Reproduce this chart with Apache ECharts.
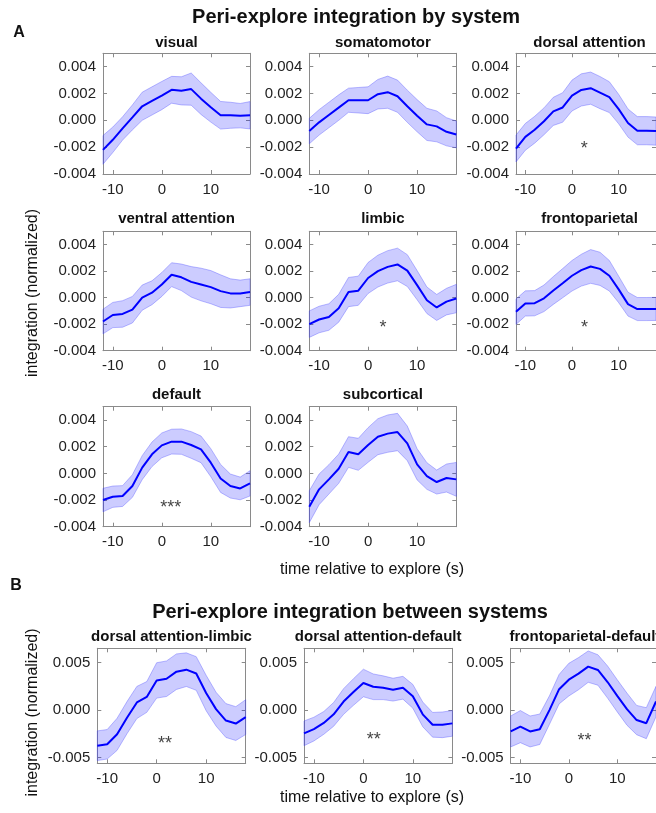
<!DOCTYPE html>
<html><head><meta charset="utf-8">
<script src="https://cdn.jsdelivr.net/npm/echarts@6/dist/echarts.min.js"></script>
<style>html,body{margin:0;padding:0;background:#fff}#c{width:656px;height:813px}</style>
</head><body><div id="c"></div>
<script>
// ---------------- DATA ----------------
const timeSec = [-12,-10,-8,-6,-4,-2,0,2,4,6,8,10,12,14,16,18];

const panelTitles = ['visual','somatomotor','dorsal attention','ventral attention','limbic','frontoparietal','default','subcortical',
  'dorsal attention-limbic','dorsal attention-default','frontoparietal-default'];

const visualMean = [-0.00220,-0.00145,-0.00060,0.00022,0.00105,0.00145,0.00185,0.00228,0.00220,0.00233,0.00162,0.00098,0.00038,0.00038,0.00035,0.00038];
const visualSem  = [0.00107,0.00095,0.00087,0.00093,0.00105,0.00105,0.00105,0.00100,0.00105,0.00120,0.00118,0.00111,0.00103,0.00097,0.00091,0.00102];

const somatomotorMean = [-0.00080,-0.00015,0.00040,0.00095,0.00150,0.00150,0.00150,0.00195,0.00210,0.00180,0.00105,0.00035,-0.00030,-0.00045,-0.00085,-0.00105];
const somatomotorSem  = [0.00095,0.00095,0.00095,0.00095,0.00090,0.00095,0.00100,0.00110,0.00120,0.00120,0.00120,0.00120,0.00120,0.00115,0.00105,0.00100];

const dorsalMean = [-0.00210,-0.00123,-0.00070,-0.00007,0.00067,0.00096,0.00185,0.00227,0.00240,0.00207,0.00173,0.00084,-0.00020,-0.00077,-0.00077,-0.00080];
const dorsalSem  = [0.00100,0.00100,0.00100,0.00100,0.00105,0.00110,0.00115,0.00120,0.00120,0.00120,0.00115,0.00110,0.00105,0.00105,0.00105,0.00105];

const ventralMean = [-0.00180,-0.00131,-0.00123,-0.00091,0.00000,0.00037,0.00099,0.00173,0.00153,0.00119,0.00099,0.00079,0.00049,0.00032,0.00032,0.00042];
const ventralSem  = [0.00093,0.00095,0.00100,0.00100,0.00095,0.00090,0.00090,0.00090,0.00100,0.00115,0.00123,0.00125,0.00123,0.00110,0.00100,0.00100];

const limbicMean = [-0.00200,-0.00165,-0.00146,-0.00080,0.00042,0.00052,0.00148,0.00200,0.00232,0.00250,0.00204,0.00094,-0.00020,-0.00074,-0.00030,-0.00007];
const limbicSem  = [0.00100,0.00100,0.00100,0.00105,0.00110,0.00110,0.00117,0.00120,0.00122,0.00123,0.00120,0.00110,0.00100,0.00098,0.00100,0.00107];

const frontoMean = [-0.00106,-0.00044,-0.00042,-0.00005,0.00054,0.00109,0.00165,0.00207,0.00235,0.00217,0.00165,0.00062,-0.00049,-0.00086,-0.00086,-0.00085];
const frontoSem  = [0.00096,0.00095,0.00095,0.00100,0.00105,0.00110,0.00115,0.00120,0.00127,0.00125,0.00115,0.00100,0.00090,0.00087,0.00087,0.00087];

const defaultMean = [-0.00200,-0.00175,-0.00170,-0.00095,0.00043,0.00143,0.00210,0.00238,0.00238,0.00213,0.00180,0.00080,-0.00038,-0.00095,-0.00113,-0.00075];
const defaultSem  = [0.00088,0.00080,0.00078,0.00085,0.00090,0.00092,0.00093,0.00093,0.00095,0.00100,0.00100,0.00105,0.00105,0.00090,0.00085,0.00095];

const subcorticalMean = [-0.00250,-0.00120,-0.00045,0.00035,0.00160,0.00143,0.00213,0.00275,0.00298,0.00310,0.00225,0.00068,-0.00020,-0.00065,-0.00035,-0.00045];
const subcorticalSem  = [0.00120,0.00115,0.00110,0.00110,0.00115,0.00120,0.00130,0.00135,0.00140,0.00140,0.00130,0.00117,0.00100,0.00090,0.00105,0.00127];

const daLimbicMean = [-0.00375,-0.00360,-0.00255,-0.00080,0.00080,0.00138,0.00312,0.00330,0.00404,0.00425,0.00385,0.00180,0.00010,-0.00110,-0.00142,-0.00074];
const daLimbicSem  = [0.00156,0.00155,0.00169,0.00169,0.00169,0.00162,0.00186,0.00187,0.00187,0.00177,0.00177,0.00186,0.00178,0.00178,0.00178,0.00183];

const daDefaultMean = [-0.00245,-0.00200,-0.00135,-0.00045,0.00090,0.00190,0.00285,0.00245,0.00235,0.00215,0.00235,0.00145,-0.00045,-0.00155,-0.00155,-0.00140];
const daDefaultSem  = [0.00130,0.00125,0.00120,0.00125,0.00135,0.00140,0.00145,0.00135,0.00125,0.00120,0.00120,0.00125,0.00130,0.00130,0.00135,0.00135];

const fpDefaultMean = [-0.00225,-0.00174,-0.00225,-0.00202,0.00000,0.00220,0.00320,0.00383,0.00457,0.00422,0.00295,0.00150,0.00010,-0.00105,-0.00138,0.00090];
const fpDefaultSem  = [0.00163,0.00169,0.00163,0.00160,0.00150,0.00155,0.00172,0.00169,0.00165,0.00160,0.00169,0.00169,0.00169,0.00154,0.00163,0.00160];

const starPanel  = [2, 4, 5, 6, 8, 9, 10];
const starLabels = ['*','*','*','***','**','**','**'];
const starX      = [2.6, 3.05, 2.7, 1.85, 1.7, 2.1, 3.25];
const starY      = [-0.0018, -0.0019, -0.0019, -0.0022, -0.0030, -0.0026, -0.0027];

const xTickValues  = [-10, 0, 10];
const yTickValuesA = [-0.004, -0.002, 0, 0.002, 0.004];
const yTickValuesB = [-0.005, 0, 0.005];

const titleA = 'Peri-explore integration by system';
const titleB = 'Peri-explore integration between systems';
const xLabelText = 'time relative to explore (s)';
const yLabelText = 'integration (normalized)';

// ---------------- LAYOUT ----------------
const means = [visualMean, somatomotorMean, dorsalMean, ventralMean, limbicMean, frontoMean, defaultMean, subcorticalMean, daLimbicMean, daDefaultMean, fpDefaultMean];
const sems  = [visualSem, somatomotorSem, dorsalSem, ventralSem, limbicSem, frontoSem, defaultSem, subcorticalSem, daLimbicSem, daDefaultSem, fpDefaultSem];

const FONT = '"Liberation Sans", Arial, Helvetica, sans-serif';
const axisColor = '#8a8a8a';
const textColor = '#222222';

const boxes = [
  [103, 53.3, 147, 120.7], [309.3, 53.3, 147, 120.7], [516, 53.3, 147, 120.7],
  [103, 231.3, 147, 119.4], [309.3, 231.3, 147, 119.4], [516, 231.3, 147, 119.4],
  [103, 406.7, 147, 120], [309.3, 406.7, 147, 120],
  [97.3, 648.3, 148.4, 115], [304, 648.3, 148.4, 115], [510.7, 648.3, 148.4, 115]
];
const titleY = [42.7, 42.7, 42.7, 219.2, 219.2, 219.2, 395.3, 395.3, 637, 637, 637];

const grid = [], xAxis = [], yAxis = [], series = [], graphic = [];

boxes.forEach((b, i) => {
  const isB = i >= 8;
  grid.push({left: b[0], top: b[1], width: b[2], height: b[3], containLabel: false});
  const yTicks = isB ? yTickValuesB : yTickValuesA;
  const yMin = isB ? -0.0056 : -0.004;
  const yMax = isB ? 0.0065 : 0.005;
  const line = {show: true, onZero: false, lineStyle: {color: axisColor, width: 1}};
  const tick = (vals) => ({show: true, inside: true, length: 4, customValues: vals, lineStyle: {color: axisColor, width: 1}});
  xAxis.push({type: 'value', gridIndex: i, position: 'bottom', min: -12, max: 18,
    axisLine: line, axisTick: tick(xTickValues), splitLine: {show: false},
    axisLabel: {customValues: xTickValues, margin: 8, fontSize: 15, color: textColor, fontFamily: FONT}});
  xAxis.push({type: 'value', gridIndex: i, position: 'top', min: -12, max: 18,
    axisLine: line, axisTick: tick(xTickValues), splitLine: {show: false}, axisLabel: {show: false}});
  yAxis.push({type: 'value', gridIndex: i, position: 'left', min: yMin, max: yMax,
    axisLine: line, axisTick: tick(yTicks), splitLine: {show: false},
    axisLabel: {customValues: yTicks, margin: 7, fontSize: 15, color: textColor, fontFamily: FONT,
      formatter: v => (Math.abs(v) < 1e-12 ? 0 : v).toFixed(3)}});
  yAxis.push({type: 'value', gridIndex: i, position: 'right', min: yMin, max: yMax,
    axisLine: line, axisTick: tick(yTicks), splitLine: {show: false}, axisLabel: {show: false}});

  const m = means[i], s = sems[i];
  series.push({
    type: 'custom', xAxisIndex: 2 * i, yAxisIndex: 2 * i, z: 1, silent: true,
    data: [[timeSec[0], m[0]]],
    renderItem: (params, api) => {
      const pts = [];
      for (let k = 0; k < timeSec.length; k++) pts.push(api.coord([timeSec[k], m[k] + s[k]]));
      for (let k = timeSec.length - 1; k >= 0; k--) pts.push(api.coord([timeSec[k], m[k] - s[k]]));
      return {type: 'polygon', shape: {points: pts},
        style: {fill: 'rgba(0,0,255,0.2)', stroke: 'rgba(70,70,255,0.45)', lineWidth: 0.8}};
    }
  });
  series.push({
    type: 'line', xAxisIndex: 2 * i, yAxisIndex: 2 * i, z: 3, silent: true,
    data: timeSec.map((t, k) => [t, m[k]]), showSymbol: false, symbol: 'none',
    lineStyle: {color: '#0000ff', width: 2}
  });

  graphic.push({type: 'text', x: b[0] + b[2] / 2, y: titleY[i], silent: true,
    style: {text: panelTitles[i], font: 'bold 15px ' + FONT, fill: '#111',
      align: 'center', verticalAlign: 'middle', textAlign: 'center', textVerticalAlign: 'middle'}});
});

starPanel.forEach((p, j) => {
  series.push({
    type: 'scatter', xAxisIndex: 2 * p, yAxisIndex: 2 * p, z: 4, silent: true,
    data: [[starX[j], starY[j]]], symbolSize: 1, itemStyle: {color: 'rgba(0,0,0,0)'},
    label: {show: true, position: 'inside', formatter: starLabels[j], fontSize: 18, color: '#111',
      fontFamily: FONT, offset: [0, 5]}
  });
});

const txt = (text, x, y, font, extra) => Object.assign({type: 'text', x: x, y: y, silent: true,
  style: {text: text, font: font, fill: '#111', align: 'center', verticalAlign: 'middle',
    textAlign: 'center', textVerticalAlign: 'middle'}}, extra || {});

graphic.push(txt(titleA, 356, 17.5, 'bold 20px ' + FONT));
graphic.push(txt(titleB, 350, 612, 'bold 20px ' + FONT));
graphic.push(txt('A', 19, 32.5, 'bold 16px ' + FONT));
graphic.push(txt('B', 16, 586, 'bold 16px ' + FONT));
graphic.push(txt(xLabelText, 372, 569.5, '16px ' + FONT));
graphic.push(txt(xLabelText, 372, 797.5, '16px ' + FONT));
graphic.push(txt(yLabelText, 33, 293, '16px ' + FONT, {rotation: Math.PI / 2}));
graphic.push(txt(yLabelText, 33, 712.5, '16px ' + FONT, {rotation: Math.PI / 2}));

const chart = echarts.init(document.getElementById('c'), null, {renderer: 'canvas'});
chart.setOption({animation: false, backgroundColor: '#fff', grid, xAxis, yAxis, series, graphic});
</script>
</body></html>
